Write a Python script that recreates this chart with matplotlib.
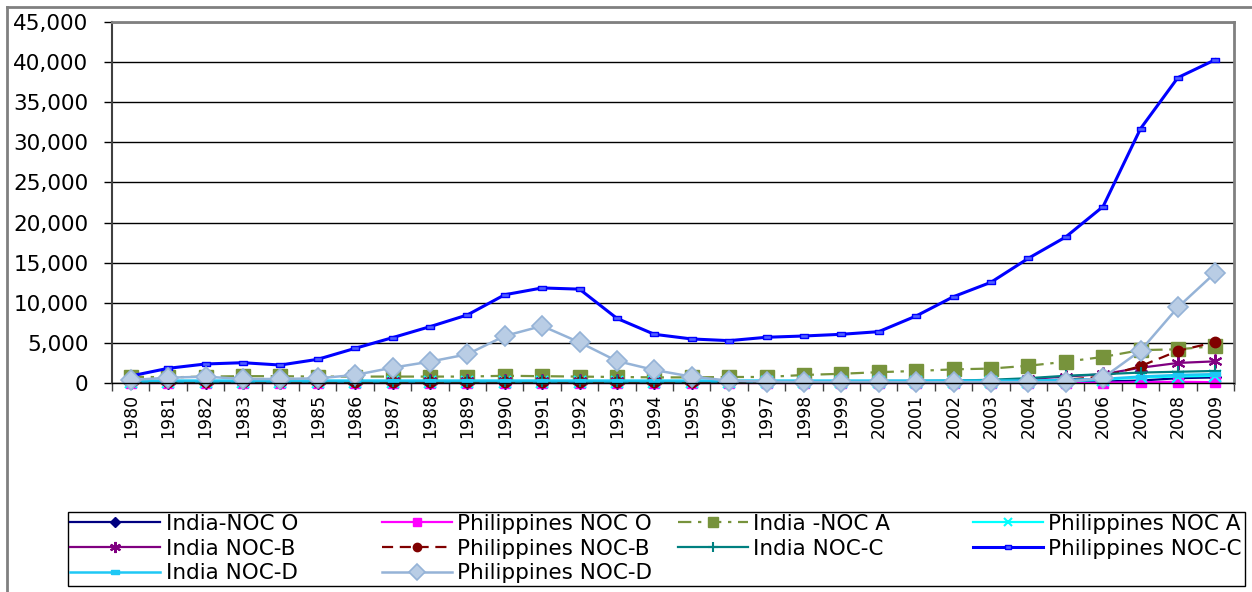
import matplotlib.pyplot as plt
from matplotlib.lines import Line2D
from matplotlib.patches import Rectangle
from matplotlib.ticker import FuncFormatter, FixedLocator

plt.rcParams['font.family'] = ['DejaVu Sans']

years = list(range(1980, 2010))

india_noc_o = [50, 50, 50, 50, 50, 50, 50, 50, 50, 50,
               50, 50, 50, 50, 50, 50, 50, 50, 50, 50,
               50, 50, 50, 50, 100, 150, 200, 300, 600, 700]
phil_noc_o = [0, 0, 0, 0, 0, 0, 0, 0, 0, 0,
              0, 0, 0, 0, 0, 0, 0, 0, 0, 0,
              0, 0, 0, 0, 0, 0, 50, 100, 150, 100]
india_noc_a = [800, 700, 800, 850, 850, 800, 800, 800, 800, 800,
               900, 850, 800, 750, 700, 700, 750, 750, 1000, 1150,
               1350, 1500, 1700, 1800, 2150, 2650, 3250, 4100, 4200, 4600]
phil_noc_a = [100, 100, 100, 100, 100, 100, 100, 100, 100, 100,
              100, 100, 100, 100, 100, 100, 100, 100, 100, 100,
              100, 100, 100, 100, 100, 200, 400, 700, 800, 900]
india_noc_b = [200, 200, 200, 200, 200, 200, 200, 200, 200, 200,
               200, 200, 200, 200, 200, 200, 200, 200, 200, 200,
               250, 250, 250, 300, 500, 800, 1100, 1900, 2500, 2700]
phil_noc_b = [100, 100, 100, 100, 100, 100, 100, 100, 100, 100,
              100, 100, 100, 100, 100, 100, 100, 100, 100, 100,
              100, 100, 100, 150, 300, 400, 800, 2100, 4000, 5100]
india_noc_c = [200, 200, 200, 200, 200, 200, 200, 200, 200, 200,
               200, 200, 200, 200, 200, 200, 200, 200, 200, 200,
               200, 250, 300, 400, 600, 900, 1100, 1300, 1400, 1500]
phil_noc_c = [870, 1830, 2370, 2530, 2240, 2950, 4320, 5650, 7020, 8480,
              11000, 11850, 11700, 8060, 6070, 5490, 5280, 5700, 5860, 6070,
              6400, 8350, 10760, 12550, 15540, 18200, 22000, 31700, 38070, 40300]
india_noc_d = [300, 300, 300, 300, 300, 300, 300, 300, 300, 300,
               300, 300, 300, 300, 300, 300, 300, 300, 300, 300,
               300, 300, 300, 300, 300, 400, 500, 800, 1000, 1100]
phil_noc_d = [370, 660, 790, 500, 500, 580, 1000, 1910, 2660, 3580,
              5860, 7110, 5070, 2740, 1620, 790, 290, 170, 130, 130,
              130, 100, 100, 100, 100, 100, 660, 4030, 9440, 13750]

rect = [(-1, -0.5), (1, -0.5), (1, 0.5), (-1, 0.5), (-1, -0.5)]

series = [
    ('India-NOC O', india_noc_o, dict(color='#000080', marker='D', ms=6, lw=1.6)),
    ('Philippines NOC O', phil_noc_o, dict(color='#FF00FF', marker='s', ms=7.5, lw=1.6)),
    ('India -NOC A', india_noc_a, dict(color='#77933C', marker='s', ms=9.5, lw=1.6,
                                       dashes=(6, 3, 1.5, 3))),
    ('Philippines NOC A', phil_noc_a, dict(color='#00FFFF', marker='x', ms=8, mew=1.5, lw=1.6)),
    ('India NOC-B', india_noc_b, dict(color='#800080', marker=(6, 2, 0), ms=10, mew=1.5, lw=1.6)),
    ('Philippines NOC-B', phil_noc_b, dict(color='#800000', marker='o', ms=7.5, lw=1.6,
                                           dashes=(5, 3))),
    ('India NOC-C', india_noc_c, dict(color='#008080', marker='+', ms=9, mew=1.5, lw=1.6)),
    ('Philippines NOC-C', phil_noc_c, dict(color='#0000FF', marker=rect, ms=6, mfc='#5060FF',
                                           mew=1, lw=2.2)),
    ('India NOC-D', india_noc_d, dict(color='#1EC8F5', marker=rect, ms=7, lw=1.8)),
    ('Philippines NOC-D', phil_noc_d, dict(color='#95B3D7', marker='D', ms=10, mfc='#B9CDE5',
                                           mec='#95B3D7', mew=1.2, lw=1.8)),
]

W, H = 1252, 592
fig = plt.figure(figsize=(W / 100, H / 100), dpi=100)
ax = fig.add_axes([112 / W, 1 - 383 / H, (1234 - 112) / W, (383 - 22) / H])

x = list(range(len(years)))
handles = {}
for name, vals, style in series:
    ln, = ax.plot(x, vals, label=name, clip_on=False, **style)
    handles[name] = ln

ax.set_xlim(-0.5, len(years) - 0.5)
ax.set_ylim(0, 45000)
ax.set_yticks(range(0, 45001, 5000))
ax.yaxis.set_major_formatter(FuncFormatter(lambda v, p: f'{int(v):,}'))
ax.set_xticks(x)
ax.set_xticklabels([str(y) for y in years], rotation=90, fontsize=12.5)
ax.xaxis.set_minor_locator(FixedLocator([i - 0.5 for i in range(len(years) + 1)]))
ax.tick_params(axis='x', which='major', length=0, pad=8)
ax.tick_params(axis='x', which='minor', length=6, width=1, direction='out', color='#404040')
ax.tick_params(axis='y', length=6, width=1, direction='out', labelsize=15.5, pad=11)
ax.grid(axis='y', color='black', lw=1)
ax.set_axisbelow(True)

for s in ['top', 'right']:
    ax.spines[s].set_color('#808080')
    ax.spines[s].set_linewidth(2)
ax.spines['left'].set_color('#404040')
ax.spines['left'].set_linewidth(1.5)
ax.spines['bottom'].set_color('black')
ax.spines['bottom'].set_linewidth(1)

# outer chart border
fig.add_artist(Line2D([7 / W, 7 / W], [0, 1 - 7 / H], transform=fig.transFigure,
                      color='#808080', lw=2))
fig.add_artist(Line2D([7 / W, 1], [1 - 7 / H, 1 - 7 / H], transform=fig.transFigure,
                      color='#808080', lw=2))

# legend: Excel-like grid of four equal columns
fig.add_artist(Rectangle((68 / W, 1 - 586 / H), (1245 - 68) / W, (586 - 512) / H,
                         transform=fig.transFigure, fill=False, ec='black', lw=1))
columns = [
    (70, 4.2, ['India-NOC O', 'India NOC-B', 'India NOC-D']),
    (382, 3.25, ['Philippines NOC O', 'Philippines NOC-B', 'Philippines NOC-D']),
    (678, 3.25, ['India -NOC A', 'India NOC-C']),
    (973, 3.25, ['Philippines NOC A', 'Philippines NOC-C']),
]
for x0, hl, names in columns:
    fig.legend([handles[n] for n in names], names, loc='upper left',
               bbox_to_anchor=(x0 / W, 1 - 514 / H), fontsize=15.5, frameon=False,
               borderpad=0, borderaxespad=0, labelspacing=0.21, handlelength=hl,
               handletextpad=0.25, markerscale=0.8)

fig.savefig('out.png', dpi=100)
